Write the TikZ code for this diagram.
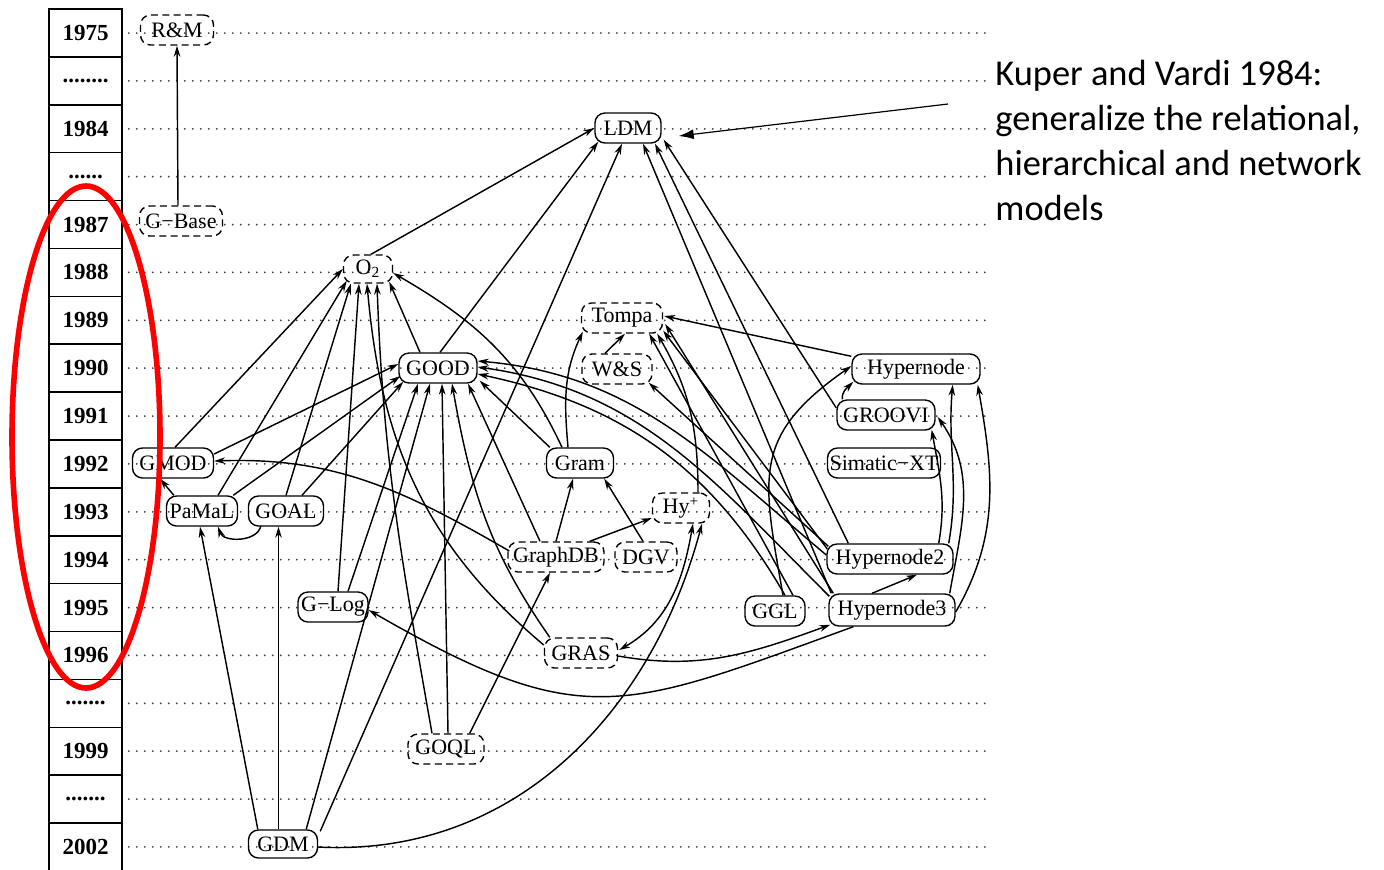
\documentclass[tikz,border=0pt]{standalone}
\usepackage{fontspec}
\setmainfont{Liberation Serif}
\newfontfamily\annfont{Carlito}
\usetikzlibrary{arrows.meta,calc}
\tikzset{
  nd/.style={draw, rounded corners=5pt, minimum height=15pt, inner sep=1pt, line width=0.7pt, font=\fontsize{11}{12}\selectfont},
  dnd/.style={nd, dash pattern=on 3.5pt off 2.2pt},
  ed/.style={-{Stealth[length=5.5pt,width=3.3pt]}, line width=0.72pt},
  biedge/.style={{Stealth[length=5.5pt,width=3.3pt]}-{Stealth[length=5.5pt,width=3.3pt]}, line width=0.72pt},
  yearcell/.style={draw, line width=0.75pt, minimum width=36.5pt, minimum height=23.94pt, inner sep=0pt, font=\bfseries\fontsize{11.5}{13}\selectfont},
  guide/.style={line width=1pt, line cap=round, dash pattern=on 0pt off 4pt, black!75},
}
\begin{document}
\begin{tikzpicture}[x=0.5pt,y=0.5pt]
\useasboundingbox (0,0) rectangle (1384,-869);
% year column
\foreach \i/\t in {0/1975,1/{........},2/1984,3/{......},4/1987,5/1988,6/1989,7/1990,8/1991,9/1992,10/1993,11/1994,12/1995,13/1996,14/{.......},15/1999,16/{.......},17/2002}{
  \node[yearcell] (y\i) at (85.5,{-(33+47.88*\i)}) {\t};
  \draw[guide] ($(y\i.east)+(6,0)$) -- ++(862,0);
}
% nodes
\node[dnd, minimum width=36.5pt] (RM) at (177,-30) {R\&M};
\node[dnd, minimum width=41.5pt] (GBase) at (181,-221) {G−Base};
\node[nd, minimum width=33pt] (LDM) at (628,-128) {LDM};
\node[dnd, minimum width=24.5pt, minimum height=14pt] (O2) at (368,-269) {O\textsubscript{2}};
\node[dnd, minimum width=40.5pt] (Tompa) at (622,-318) {Tompa};
\node[nd, minimum width=39pt] (GOOD) at (438,-368) {GOOD};
\node[dnd, minimum width=35pt] (WS) at (617,-369) {W\&S};
\node[nd, minimum width=64pt] (Hypernode) at (916,-369) {Hypernode};
\node[nd, minimum width=49pt] (GROOVI) at (886,-415) {GROOVI};
\node[nd, minimum width=40.5pt] (GMOD) at (173,-463) {GMOD};
\node[nd, minimum width=33.5pt] (Gram) at (580,-463) {Gram};
\node[nd, minimum width=56pt] (Simatic) at (884,-463) {Simatic−XT};
\node[nd, minimum width=35.5pt] (PaMaL) at (202,-511) {PaMaL};
\node[nd, minimum width=37.5pt] (GOAL) at (286,-511) {GOAL};
\node[dnd, minimum width=28.5pt] (Hyp) at (681,-508) {Hy\textsuperscript{+}};
\node[dnd, minimum width=48pt] (GraphDB) at (556,-557) {GraphDB};
\node[dnd, minimum width=31pt] (DGV) at (646,-557) {DGV};
\node[nd, minimum width=63pt] (H2) at (890,-559) {Hypernode2};
\node[nd, minimum width=35pt] (GLog) at (333,-607) {G−Log};
\node[nd, minimum width=30pt] (GGL) at (775,-611) {GGL};
\node[nd, minimum width=63pt, minimum height=16pt] (H3) at (892,-610) {Hypernode3};
\node[dnd, minimum width=36.5pt] (GRAS) at (581,-653) {GRAS};
\node[dnd, minimum width=38pt] (GOQL) at (446,-749) {GOQL};
\node[nd, minimum width=34.5pt, minimum height=14pt] (GDM) at (283,-844) {GDM};
% edges
\draw[ed] ($(GBase.north)+(-3,0)$) -- (RM.south);
% into LDM
\draw[ed] ($(O2.north)+(3,0)$) -- (LDM.west);
\draw[ed] ($(GOOD.north)+(2,0)$) -- ($(LDM.south west)+(4,2)$);
\draw[ed] ($(GDM.north east)+(2,-2)$) -- ($(LDM.south)+(-6,0)$);
\draw[ed] ($(H3.north west)+(3,0)$) -- ($(LDM.south)+(15,0)$);
\draw[ed] ($(H2.north west)+(22,0)$) -- ($(LDM.south)+(27,0)$);
\draw[ed] ($(GROOVI.west)+(0,7)$) -- ($(LDM.south east)+(2,4)$);
% into O2
\draw[ed] ($(GMOD.north)+(2,0)$) -- (O2.west);
\draw[ed] ($(PaMaL.north)+(16,0)$) -- ($(O2.south west)+(4,3)$);
\draw[ed] (GOAL.north) -- ($(O2.south west)+(8,0)$);
\draw[ed] ($(GLog.north)+(5,0)$) -- ($(O2.south)+(-9,0)$);
\draw[ed] ($(GOQL.north)+(-14,0)$) to[out=100,in=-88] ($(O2.south)+(9,0)$);
\draw[ed] ($(GRAS.west)+(0,8)$) to[out=140,in=-85] ($(O2.south)+(-1,0)$);
\draw[ed] ($(GOOD.north)+(-18,0)$) -- ($(O2.south east)+(-4,2)$);
\draw[ed] ($(Gram.north)+(-18,0)$) to[out=115,in=-30] ($(O2.east)+(0,-4)$);
% into GOOD
\draw[ed] ($(GMOD.east)+(0,9)$) -- ($(GOOD.west)+(0,4)$);
\draw[ed] ($(PaMaL.north east)+(-5,0)$) -- ($(GOOD.west)+(2,-8)$);
\draw[ed] ($(GOAL.north)+(16,0)$) -- ($(GOOD.south west)+(5,2)$);
\draw[ed] ($(GLog.north)+(15,0)$) -- ($(GOOD.south)+(-20,0)$);
\draw[ed] ($(GDM.north east)+(-12,0)$) -- ($(GOOD.south)+(-8,0)$);
\draw[ed] ($(GOQL.north)+(2,0)$) -- ($(GOOD.south)+(4,0)$);
\draw[ed] ($(GRAS.north west)+(6,0)$) to[out=125,in=-80] ($(GOOD.south)+(14,0)$);
\draw[ed] ($(GraphDB.north)+(-16,0)$) -- ($(GOOD.south)+(30,0)$);
\draw[ed] ($(Gram.north west)+(4,0)$) -- ($(GOOD.south east)+(2,3)$);
\draw[ed] ($(H2.west)+(0,4)$) to[out=140,in=-5] ($(GOOD.east)+(0,7)$);
\draw[ed] ($(H3.north west)+(1,-3)$) to[out=135,in=-8] ($(GOOD.east)+(0,1)$);
\draw[ed] ($(GGL.north)+(10,0)$) to[out=120,in=-12] ($(GOOD.east)+(0,-6)$);
% into Tompa
\draw[ed] ($(Gram.north)+(-12,0)$) to[out=95,in=-115] ($(Tompa.south west)+(2,2)$);
\draw[ed] ($(WS.north)+(-12,0)$) -- ($(Tompa.south)+(3,0)$);
\draw[ed] ($(Hyp.north)+(17,0)$) to[out=90,in=-60] ($(Tompa.south east)+(-6,0)$);
\draw[ed] ($(Hypernode.north west)+(0,-3)$) -- ($(Tompa.east)+(1,2)$);
\draw[ed] ($(H2.west)+(1,10)$) -- ($(Tompa.south east)+(0,3)$);
\draw[ed] ($(H3.north west)+(5,0)$) -- ($(Tompa.east)+(2,-6)$);
\draw[ed] ($(GGL.north)+(18,0)$) -- ($(Tompa.south east)+(-14,0)$);
% W&S
\draw[ed] ($(H2.north west)+(2,-3)$) -- ($(WS.south east)+(-4,2)$);
% Hypernode family
\draw[ed] ($(GROOVI.north west)+(6,0)$) to[out=95,in=225] ($(Hypernode.south west)+(2,3)$);
\draw[ed] ($(GGL.north)+(8,0)$) to[out=100,in=215,looseness=1.3] ($(Hypernode.west)+(0,3)$);
\draw[ed] ($(H2.north east)+(-15,0)$) to[out=80,in=-80] ($(GROOVI.south east)+(-4,1)$);
\draw[ed] ($(H3.north east)+(-6,0)$) to[out=80,in=-55] ($(GROOVI.east)+(2,-2)$);
\draw[ed] ($(H2.north east)+(-5,0)$) to[out=80,in=-95] ($(Hypernode.south east)+(-28,0)$);
\draw[ed] ($(H3.east)+(0,-2)$) to[out=60,in=-80] ($(Hypernode.south east)+(-3,0)$);
\draw[ed] ($(H3.north)+(-20,0)$) -- ($(H2.south)+(27,0)$);
% GraphDB, Gram, etc.
\draw[ed] (GraphDB.north) -- ($(Gram.south)+(-7,0)$);
\draw[ed] ($(DGV.north)+(-3,0)$) -- ($(Gram.south east)+(-10,0)$);
\draw[ed] ($(GraphDB.north east)+(-15,0)$) -- ($(Hyp.west)+(0,-10)$);
\draw[ed] ($(GraphDB.west)+(2,6)$) to[out=150,in=2] ($(GMOD.east)+(0,2)$);
\draw[ed] ($(GOQL.north east)+(-15,0)$) -- ($(GraphDB.south)+(-6,0)$);
\draw[ed] ($(PaMaL.north west)+(8,0)$) -- ($(GMOD.south)+(-13,0)$);
\draw[ed] ($(GOAL.south west)+(13,1)$) to[out=-100,in=-70] ($(PaMaL.south)+(16,0)$);
\draw[ed] ($(GDM.north west)+(10,0)$) -- ($(PaMaL.south)+(-2,0)$);
\draw[ed] ($(GDM.north)+(-4.5,0)$) -- ($(GOAL.south)+(-7.5,0)$);
\draw[ed] ($(GDM.east)+(0,-3)$) to[out=-3,in=-105] ($(Hyp.south)+(21,0)$);
\draw[biedge] ($(GRAS.east)+(1,3)$) to[out=30,in=-100] ($(Hyp.south)+(12,0)$);
\draw[ed] ($(GRAS.east)+(0,-3)$) to[out=-10,in=200] ($(H3.south west)+(2,2)$);
\draw[ed] ($(H3.south west)+(25,0)$) to[out=-160,in=-30,looseness=1.3] ($(GLog.east)+(0,-3)$);
% annotation
\coordinate (annstart) at (948,-104);
\draw[-{Latex[length=7.5pt,width=5pt]}, line width=0.6pt] (annstart) -- ($(LDM.east)+(17,-8)$);
\node[anchor=north west, inner sep=0pt, align=left, font={\annfont\fontsize{18.2}{22.5}\selectfont}] (ann) at (995,-60) {Kuper and Vardi 1984:\\generalize the relational,\\hierarchical and network\\models};
% red ellipse
\draw[red, line width=2.8pt] (86,-437) ellipse [x radius=74, y radius=251];
\end{tikzpicture}
\end{document}
